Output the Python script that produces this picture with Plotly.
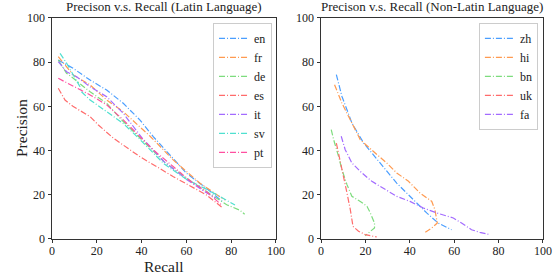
import plotly.graph_objects as go

# ---- Latin languages ----
en_x = [2.8, 9.5, 17, 24.4, 31.8, 39.3, 45.2, 51.2, 60.1, 69, 76]
en_y = [81, 77.2, 71.9, 67.4, 61.4, 53.8, 46.3, 39.5, 29.7, 22.9, 17]
fr_x = [2.8, 9.5, 17, 24.4, 31.8, 39.3, 43.8, 54.2, 66.1, 77.2]
fr_y = [82.5, 74.2, 69.7, 62.9, 57.6, 50.8, 46.5, 35.7, 25.2, 17.6]
de_x = [2.8, 6.5, 9.5, 17, 24.4, 31, 40, 50, 60, 70, 78, 83.9, 86]
de_y = [81, 75, 72.7, 66.6, 61.4, 54, 45, 35, 27.5, 21, 15.5, 13, 11.2]
es_x = [2.8, 5.8, 9.5, 17, 20.7, 27.4, 39.3, 54.2, 69, 75.7]
es_y = [68.2, 62.9, 59.9, 55.4, 51.6, 45.6, 37.2, 28.2, 19.9, 14.5]
it_x = [2.8, 6.5, 11, 17, 24.4, 31.8, 40, 50, 60, 68, 73]
it_y = [80.3, 75.7, 73.4, 68.9, 64.4, 56.9, 46, 35, 27, 21.5, 18.5]
sv_x = [3.6, 6.5, 9.5, 12.5, 13.2, 17, 24.4, 31.8, 39.3, 50, 60, 70, 81.7]
sv_y = [84, 79.6, 74.2, 68.9, 66.6, 62.9, 57.6, 52.3, 45, 34, 27, 22, 15.4]
pt_x = [2.8, 9.5, 17, 24.4, 31.8, 37.8, 45, 54.2, 62, 69, 75.7]
pt_y = [72.7, 69, 65.2, 60.7, 53.9, 47.8, 40.5, 32.7, 26, 21.4, 15.4]

# ---- Non-Latin languages ----
zh_x = [6.9, 9.4, 13.9, 19.2, 26.6, 34.1, 41.6, 47.6, 52.8, 58.8]
zh_y = [74.4, 64.6, 52.5, 43.4, 34.4, 25.3, 17.8, 11.8, 7.2, 4.2]
hi_x = [6.1, 9.4, 13.9, 17.7, 24.4, 29.6, 34.1, 39.4, 44.6, 49.9, 51.3, 52.4, 49.9, 46.9]
hi_y = [69.8, 61.5, 52.5, 44.9, 38.9, 34.4, 29.9, 26.1, 20.8, 17.0, 13.3, 7.2, 5.0, 3.0]
bn_x = [4.6, 5.7, 7.9, 9.4, 11.7, 13.9, 17.7, 20.7, 22.2, 24.1, 24.1, 22.2, 19.9]
bn_y = [49.5, 44.9, 37.4, 31.4, 24.6, 19.3, 17.0, 14.8, 11.8, 7.2, 5.0, 3.5, 1.5]
uk_x = [6.9, 7.9, 8.7, 10.2, 11.7, 13.2, 14.4, 16.9, 19.9, 25.1]
uk_y = [43.4, 38.9, 34.4, 28.4, 20.8, 13.3, 5.7, 3.5, 2.0, 0.9]
fa_x = [9.1, 10.9, 13.9, 18.4, 22.9, 28.1, 34.1, 40.1, 46.1, 52.1, 59.6, 63.3, 67.8, 71.5, 76.0]
fa_y = [46.5, 40.4, 34.4, 29.9, 26.1, 23.1, 19.3, 17.0, 14.0, 11.8, 9.5, 7.2, 4.2, 3.0, 2.0]

ticks = [0, 20, 40, 60, 80, 100]

colors = {
    "en": "#4a9eff", "fr": "#ff9a50", "de": "#7ddc7d", "es": "#ff6b6b",
    "it": "#a36bff", "sv": "#4fe0d0", "pt": "#ff4fa0",
    "zh": "#4a9eff", "hi": "#ff9a50", "bn": "#7ddc7d", "uk": "#ff6b6b", "fa": "#a36bff",
}

latin = [("en", en_x, en_y), ("fr", fr_x, fr_y), ("de", de_x, de_y), ("es", es_x, es_y),
         ("it", it_x, it_y), ("sv", sv_x, sv_y), ("pt", pt_x, pt_y)]
nonlatin = [("zh", zh_x, zh_y), ("hi", hi_x, hi_y), ("bn", bn_x, bn_y),
            ("uk", uk_x, uk_y), ("fa", fa_x, fa_y)]

DASH = "6px,2px,1px,2px"
fig = go.Figure()
for name, xs, ys in latin:
    fig.add_trace(go.Scatter(x=xs, y=ys, mode="lines", name=name,
                             line=dict(color=colors[name], width=1.2, dash=DASH),
                             xaxis="x", yaxis="y", legend="legend"))
for name, xs, ys in nonlatin:
    fig.add_trace(go.Scatter(x=xs, y=ys, mode="lines", name=name,
                             line=dict(color=colors[name], width=1.2, dash=DASH),
                             xaxis="x2", yaxis="y2", legend="legend2"))

FONT = "Liberation Serif"
axis_common = dict(range=[0, 100], tickvals=ticks, showgrid=False, zeroline=False,
                   showline=True, linecolor="#333", linewidth=1, mirror=True,
                   ticks="outside", ticklen=3.5, tickwidth=1, tickcolor="#333",
                   automargin=False,
                   tickfont=dict(family=FONT, size=12, color="#222"))
xaxis_extra = dict(ticklabelstandoff=-3)

fig.update_layout(
    width=558, height=276,
    margin=dict(l=0, r=0, t=0, b=0, autoexpand=False),
    paper_bgcolor="white", plot_bgcolor="white",
    font=dict(family=FONT, color="#222"),
    xaxis=dict(domain=[0.0932, 0.4946], anchor="y", **axis_common, **xaxis_extra),
    yaxis=dict(domain=[0.1341, 0.9348], anchor="x", **axis_common),
    xaxis2=dict(domain=[0.5753, 0.9731], anchor="y2", **axis_common, **xaxis_extra),
    yaxis2=dict(domain=[0.1341, 0.9348], anchor="x2", **axis_common),
    legend=dict(x=0.4875, y=0.917, xanchor="right", yanchor="top",
                bgcolor="rgba(255,255,255,0.8)", bordercolor="#ccc", borderwidth=1,
                font=dict(family=FONT, size=12), itemwidth=30, tracegroupgap=0),
    legend2=dict(x=0.964, y=0.917, xanchor="right", yanchor="top",
                 bgcolor="rgba(255,255,255,0.8)", bordercolor="#ccc", borderwidth=1,
                 font=dict(family=FONT, size=12), itemwidth=30, tracegroupgap=0),
    annotations=[
        dict(text="Precison v.s. Recall (Latin Language)", x=0.294, y=0.942,
             xref="paper", yref="paper", xanchor="center", yanchor="bottom",
             showarrow=False, font=dict(family=FONT, size=13)),
        dict(text="Precison v.s. Recall (Non-Latin Language)", x=0.774, y=0.942,
             xref="paper", yref="paper", xanchor="center", yanchor="bottom",
             showarrow=False, font=dict(family=FONT, size=13)),
        dict(text="Recall", x=0.294, y=1 - 266 / 276, xref="paper", yref="paper",
             xanchor="center", yanchor="middle", showarrow=False,
             font=dict(family=FONT, size=15.5)),
        dict(text="Precision", x=21 / 558, y=1 - 128 / 276, xref="paper", yref="paper",
             xanchor="center", yanchor="middle", showarrow=False, textangle=-90,
             font=dict(family=FONT, size=15.5)),
    ],
)

fig.write_html("out.html", config={"displayModeBar": False},
               post_script="document.body.style.margin='0px';document.body.style.overflow='hidden';")
